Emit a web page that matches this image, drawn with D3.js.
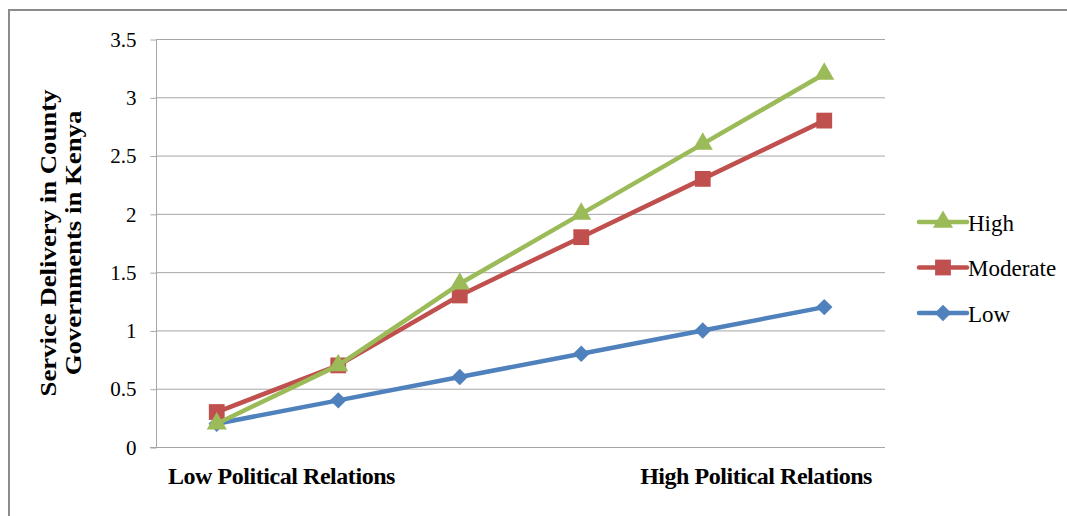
<!DOCTYPE html>
<html>
<head>
<meta charset="utf-8">
<script src="https://cdn.jsdelivr.net/npm/d3@7/dist/d3.min.js"></script>
<style>
  html, body { margin: 0; padding: 0; background: #fff; }
  svg { display: block; }
  text { font-family: "Liberation Serif", "Times New Roman", serif; fill: #000; }
</style>
</head>
<body>
<div id="chart"></div>
<script>
// Category positions along the political-relations axis
const categories = ["c1", "c2", "c3", "c4", "c5", "c6"];
const xTickLabels = ["Low Political Relations", "High Political Relations"];
const yTicks = [0, 0.5, 1, 1.5, 2, 2.5, 3, 3.5];

// Service delivery by level of relations
const lowValues = [0.2, 0.4, 0.6, 0.8, 1.0, 1.2];
const moderateValues = [0.3, 0.7, 1.3, 1.8, 2.3, 2.8];
const highValues = [0.2, 0.7, 1.4, 2.0, 2.6, 3.2];

const seriesNames = ["Low", "Moderate", "High"];
const legendOrder = ["High", "Moderate", "Low"];

const W = 1067, H = 516;
const plot = { left: 156, right: 885, top: 39, bottom: 447 };

const colors = { Low: "#4F81BD", Moderate: "#C0504D", High: "#9BBB59" };
// Diamonds are squares turned by 45 degrees
const symbols = { Low: d3.symbolSquare, Moderate: d3.symbolSquare, High: d3.symbolTriangle };
const symbolRotate = { Low: 45, Moderate: 0, High: 0 };
const symbolSize = { Low: 135, Moderate: 250, High: 175 };
const valuesBySeries = { Low: lowValues, Moderate: moderateValues, High: highValues };

const svg = d3.select("#chart").append("svg")
  .attr("width", W).attr("height", H);

// Outer chart frame
svg.append("rect")
  .attr("x", 9).attr("y", 10)
  .attr("width", W + 20).attr("height", H + 20)
  .attr("fill", "none").attr("stroke", "#8c8c8c").attr("stroke-width", 2);

const x = d3.scaleBand().domain(categories).range([plot.left, plot.right]);
const y = d3.scaleLinear().domain([0, 3.5]).range([plot.bottom, plot.top]);
const cx = c => x(c) + x.bandwidth() / 2;

// Horizontal gridlines
svg.append("g").selectAll("line").data(yTicks.filter(t => t > 0)).join("line")
  .attr("x1", plot.left).attr("x2", plot.right)
  .attr("y1", d => y(d) + 0.5).attr("y2", d => y(d) + 0.5)
  .attr("stroke", "#a6a6a6").attr("stroke-width", 1);

// Y axis with outward ticks
const yAxis = d3.axisLeft(y).tickValues(yTicks).tickSize(6).tickPadding(14)
  .tickFormat(d3.format("~g"));
const gy = svg.append("g").attr("transform", `translate(${plot.left + 0.5},0.5)`).call(yAxis);
gy.attr("font-family", null);
gy.select(".domain").attr("stroke", "#a6a6a6").attr("d", `M0,${plot.top}V${plot.bottom}`);
gy.selectAll(".tick line").attr("stroke", "#a6a6a6");
gy.selectAll(".tick text")
  .style("font-family", "'Liberation Serif', 'Times New Roman', serif")
  .style("font-size", "21px").attr("fill", "#000");

// X baseline
svg.append("line")
  .attr("x1", plot.left - 6).attr("x2", plot.right)
  .attr("y1", y(0) + 0.5).attr("y2", y(0) + 0.5)
  .attr("stroke", "#a6a6a6").attr("stroke-width", 1);

// X category labels at the two ends of the axis
const xLab = svg.append("g").style("font-weight", "bold").style("font-size", "24px")
  .style("letter-spacing", "-0.45px");
xLab.append("text")
  .attr("x", x(categories[0]) + 12).attr("y", y(0) + 37)
  .attr("text-anchor", "start").text(xTickLabels[0]);
xLab.append("text")
  .attr("x", x(categories[categories.length - 1]) + x.bandwidth() - 13).attr("y", y(0) + 37)
  .attr("text-anchor", "end").text(xTickLabels[1]);

// Y axis title, two lines
const titleY = (plot.top + plot.bottom) / 2;
const yTitle = svg.append("g")
  .attr("transform", `translate(60,${titleY}) rotate(-90) scale(1.19,1)`)
  .style("font-weight", "bold").style("font-size", "22.5px")
  .attr("text-anchor", "middle");
yTitle.append("text").attr("y", -4).text("Service Delivery in County");
yTitle.append("text").attr("y", 21).text("Governments in Kenya");

// Series lines and markers
const line = d3.line().x((d, i) => cx(categories[i])).y(d => y(d));
seriesNames.forEach(name => {
  const vals = valuesBySeries[name];
  const g = svg.append("g");
  g.append("path").datum(vals)
    .attr("d", line).attr("fill", "none")
    .attr("stroke", colors[name]).attr("stroke-width", 4.5)
    .attr("stroke-linejoin", "round");
  g.selectAll("path.m").data(vals).join("path").attr("class", "m")
    .attr("transform", (d, i) => `translate(${cx(categories[i])},${y(d)}) rotate(${symbolRotate[name]})`)
    .attr("d", d3.symbol().type(symbols[name]).size(symbolSize[name]))
    .attr("fill", colors[name]);
});

// Legend
const legend = svg.append("g").attr("transform", "translate(919,222)");
legendOrder.forEach((name, i) => {
  const row = legend.append("g").attr("transform", `translate(0,${i * 45.5})`);
  row.append("line").attr("x1", 0).attr("x2", 48).attr("y1", 0).attr("y2", 0)
    .attr("stroke", colors[name]).attr("stroke-width", 4.5).attr("stroke-linecap", "round");
  row.append("path").attr("transform", `translate(24,0) rotate(${symbolRotate[name]})`)
    .attr("d", d3.symbol().type(symbols[name]).size(symbolSize[name]))
    .attr("fill", colors[name]);
  row.append("text").attr("x", 49).attr("y", 8.5)
    .style("font-size", "23px").text(name);
});
</script>
</body>
</html>
